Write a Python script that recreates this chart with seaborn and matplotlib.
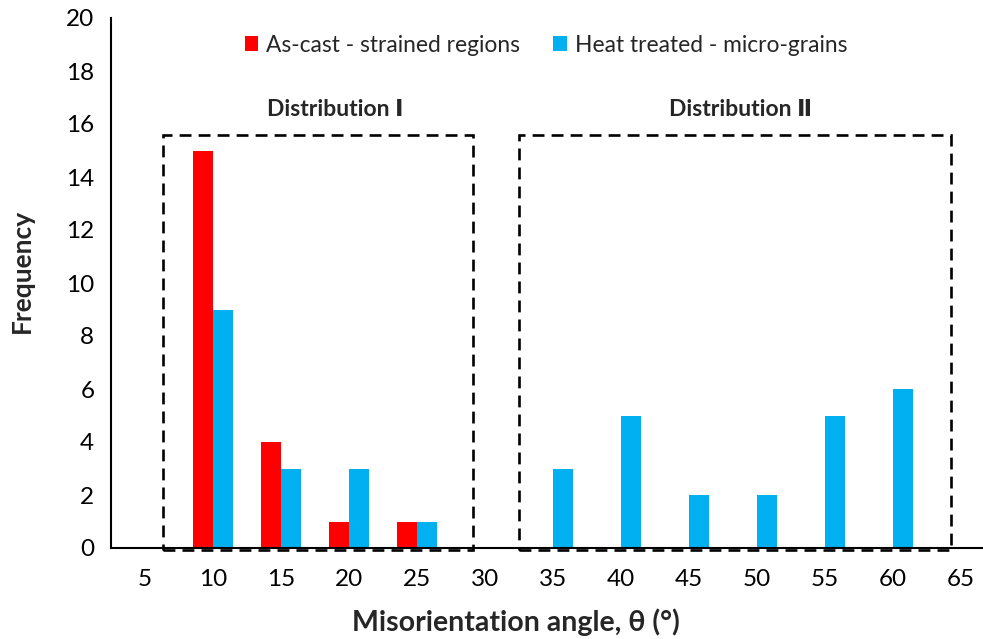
import matplotlib
matplotlib.use("Agg")
import matplotlib.pyplot as plt
from matplotlib.patches import Rectangle
import seaborn as sns
import pandas as pd

angles = ["5", "10", "15", "20", "25", "30", "35", "40", "45", "50", "55", "60", "65"]
as_cast = [0, 15, 4, 1, 1, 0, 0, 0, 0, 0, 0, 0, 0]
heat_treated = [0, 9, 3, 3, 1, 0, 3, 5, 2, 2, 5, 6, 0]
series_names = ["As-cast - strained regions", "Heat treated - micro-grains"]
y_ticks = [0, 2, 4, 6, 8, 10, 12, 14, 16, 18, 20]

df = pd.DataFrame({
    "angle": angles * 2,
    "freq": as_cast + heat_treated,
    "series": [series_names[0]] * len(angles) + [series_names[1]] * len(angles),
})

sns.set_theme(style="white")
plt.rcParams["font.family"] = ["Lato", "DejaVu Sans"]

W, H = 983, 639
fig = plt.figure(figsize=(W / 100, H / 100), dpi=100)
ax = fig.add_axes([111 / W, 1 - 548 / H, (995 - 111) / W, (548 - 18) / H])

sns.barplot(data=df, x="angle", y="freq", hue="series", order=angles,
            hue_order=series_names, palette=["#FF0000", "#00B0F0"],
            saturation=1, width=0.588, linewidth=0, ax=ax, legend=True)

ax.set_xlim(-0.5, len(angles) - 0.5)
ax.set_ylim(0, 20)
ax.set_yticks(y_ticks)
ax.set_yticklabels([str(v) for v in y_ticks], fontsize=17.5, color="black")
ax.set_xticks(range(len(angles)))
ax.set_xticklabels(angles, fontsize=17.5, color="black")
ax.set_xticks([i - 0.5 for i in range(len(angles) + 1)], minor=True)
ax.tick_params(axis="x", which="major", length=0, pad=15)
ax.tick_params(axis="x", which="minor", length=6, width=1.4, direction="out", color="black")
ax.tick_params(axis="y", which="major", length=6, width=1.4, direction="out", color="black", pad=6)
ax.set_xlabel("")
ax.set_ylabel("")
for s in ["top", "right"]:
    ax.spines[s].set_visible(False)
for s in ["left", "bottom"]:
    ax.spines[s].set_color("black")
    ax.spines[s].set_linewidth(1.5)

# dashed boxes
for x0, x1 in [(0.26, 4.82), (5.50, 11.85)]:
    r = Rectangle((x0, -0.08), x1 - x0, 15.65, fill=False, edgecolor="black",
                  linewidth=1.9, linestyle=(0, (4.5, 2.7)), clip_on=False, zorder=5)
    ax.add_patch(r)

fig.text(335 / W, 1 - 110 / H, "Distribution Ⅰ", fontsize=16.5, fontweight="bold",
         ha="center", va="center")
fig.text(741 / W, 1 - 110 / H, "Distribution Ⅱ", fontsize=16.5, fontweight="bold",
         ha="center", va="center")

leg = ax.legend(loc="center", bbox_to_anchor=(546 / W, 1 - 45 / H),
                bbox_transform=fig.transFigure, ncol=2, frameon=False,
                fontsize=16.4, handlelength=0.6, handleheight=0.6,
                handletextpad=0.35, columnspacing=1.45)

fig.text(22 / W, 1 - 271 / H, "Frequency", rotation=90, fontsize=19,
         fontweight="bold", ha="center", va="center")
fig.text(516 / W, 1 - 622 / H, "Misorientation angle, θ (°)", fontsize=20.5,
         fontweight="bold", ha="center", va="center")

fig.savefig("out.png", dpi=100)
